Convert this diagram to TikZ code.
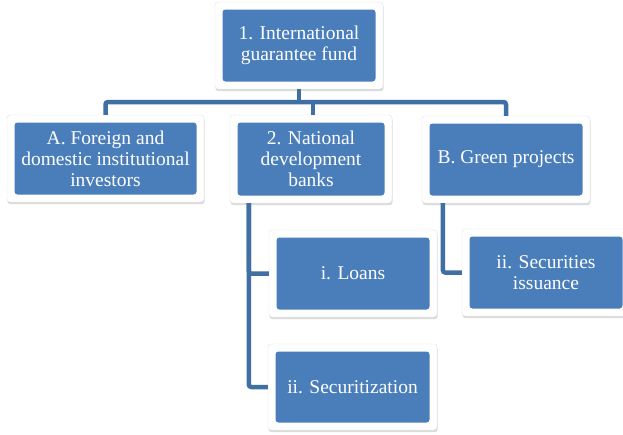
\documentclass[tikz,border=0pt]{standalone}
\usepackage{fontspec}
\usepackage{tikz}
\usetikzlibrary{positioning,shadows,calc}
\setmainfont{Liberation Serif}
\definecolor{boxblue}{HTML}{4A7EBB}
\definecolor{linkblue}{HTML}{3F6FA3}
\definecolor{frameedge}{HTML}{E2E2E2}
\tikzset{
  orgbox/.style={rectangle,rounded corners=3pt,fill=white,draw=frameedge,line width=0.4pt,
    minimum width=#1,minimum height=87pt,inner sep=0pt,align=center,text=white,
    font=\fontsize{19.5}{21}\selectfont,
    drop shadow={opacity=0.28,shadow xshift=0.6pt,shadow yshift=-2.2pt},
    path picture={\fill[boxblue] ([shift={(7.5pt,7.5pt)}]path picture bounding box.south west)
      rectangle ([shift={(-7.5pt,-7.5pt)}]path picture bounding box.north east);}},
  orgbox/.default=168pt,
  link/.style={draw=linkblue,line width=4.5pt,rounded corners=2.5pt}
}

\begin{document}
\begin{tikzpicture}[x=1pt,y=-1pt]
  \fill[white] (0,0) rectangle (623,434);
  \useasboundingbox (0,0) rectangle (623,434);
  \clip (0,0) rectangle (623,434);

  \coordinate (bus) at (299,102);

  \path (299,45.5) coordinate (fundc) (105.5,158.5) coordinate (invc) (311,159) coordinate (bankc)
        (506,159.5) coordinate (greenc) (353,273.5) coordinate (loanc) (352.5,387) coordinate (secc)
        (546,272.5) coordinate (issc);

  \node[orgbox] (fund) at (fundc) {1. International\\guarantee fund};
  \node[orgbox=197pt] (investors) at (invc) {A. Foreign and\\domestic institutional\\investors};
  \node[orgbox=162pt,minimum height=88pt] (banks) at (bankc) {2. National\\development\\banks};
  \node[orgbox] (green) at (greenc) {B. Green projects};
  \node[orgbox] (loans) at (loanc) {i. Loans};
  \node[orgbox=169pt,minimum height=86pt] (securitization) at (secc) {ii. Securitization};
  \node[orgbox] (issuance) at (issc) {ii. Securities\\issuance};

  % tree lines
  \draw[link] (investors.north) -- (investors.north |- bus) -- (green.north |- bus) -- (green.north);
  \draw[link] (fund.south) -- (fund.south |- bus);
  \draw[link] ([xshift=2pt]banks.north) -- ([xshift=2pt]banks.north |- bus);
  \draw[link] ([xshift=19pt]banks.south west) |- (loans.west);
  \draw[link] ([xshift=19pt]banks.south west) |- (securitization.west);
  \draw[link] ([xshift=21pt]green.south west) |- (issuance.west);
\end{tikzpicture}
\end{document}
